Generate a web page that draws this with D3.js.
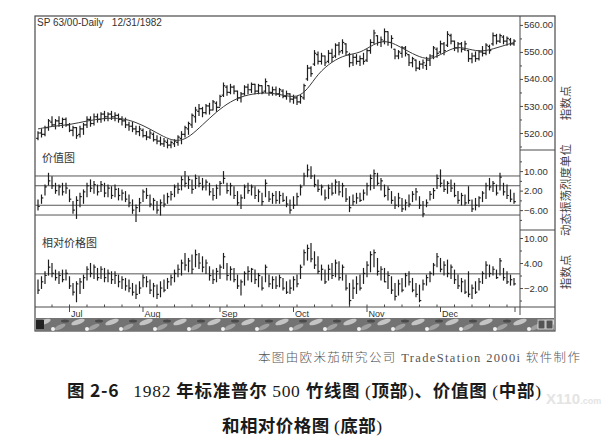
<!DOCTYPE html>
<meta charset="utf-8">
<script src="https://d3js.org/d3.v7.min.js"></script>
<style>
  body { margin: 0; background: #fff; }
</style>
<svg id="chart" width="615" height="438"></svg>
<script>

// ---- data ----
const chartTitle = "SP 63/00-Daily   12/31/1982";
const months = ["Jul", "Aug", "Sep", "Oct", "Nov", "Dec"];
const monthStart = [9, 30, 52, 73, 94, 115];   // bar index of first session

// top panel: daily bars
const hi = [520.5,521.5,522.5,525.0,526.0,525.0,526.0,525.5,525.5,523.5,
  522.5,522.0,522.5,523.5,526.0,526.0,527.0,527.0,527.5,528.0,
  527.5,528.0,527.5,527.0,526.0,525.5,524.0,524.0,522.5,522.5,
  521.5,520.5,521.0,520.0,519.0,518.5,518.0,517.5,517.0,517.5,
  519.0,520.5,522.5,524.0,527.0,529.5,530.5,529.5,530.5,531.0,
  532.0,531.5,534.0,538.5,537.5,538.0,537.5,535.5,535.0,537.5,
  538.0,538.5,538.0,538.0,537.5,540.0,537.5,537.0,537.0,536.5,
  536.0,535.5,534.5,534.0,533.5,534.0,538.0,545.0,544.5,550.5,
  550.0,549.5,548.5,550.5,551.0,553.0,553.5,554.5,553.0,549.5,
  549.0,549.0,548.5,549.5,551.0,554.5,558.0,556.0,555.5,558.5,
  557.5,556.0,551.0,550.5,552.0,552.0,549.0,548.0,547.0,546.5,
  547.0,548.0,549.0,552.0,551.5,554.0,553.5,557.5,556.5,554.0,
  553.5,553.5,554.0,550.5,549.5,550.0,550.5,552.0,553.0,552.5,
  557.0,556.5,556.5,556.0,555.5,555.0,554.5];
const lo = [517.5,518.5,519.0,521.0,522.5,521.5,522.5,522.0,522.5,520.5,
  519.0,518.0,518.5,519.5,522.0,522.5,523.0,524.0,524.0,524.5,
  524.5,525.0,524.5,524.0,523.0,522.0,521.0,520.5,519.5,519.0,
  518.5,517.5,518.0,517.0,516.0,515.5,515.0,514.5,514.5,515.0,
  515.5,516.0,518.5,519.5,522.0,524.0,526.5,526.0,527.0,527.0,
  528.5,528.0,530.0,533.5,534.0,534.5,534.5,532.0,531.5,534.0,
  534.5,535.0,534.5,534.5,534.5,535.0,534.0,534.0,534.0,533.5,
  533.0,532.5,531.5,531.0,530.5,531.0,532.5,539.5,541.0,545.0,
  545.5,545.5,545.0,546.0,546.5,548.0,549.0,549.5,549.0,544.5,
  545.0,545.5,545.0,545.5,546.5,549.5,553.0,552.5,552.0,553.0,
  552.5,551.5,547.5,547.5,548.0,548.5,545.0,544.5,543.0,543.5,
  544.0,543.5,545.0,547.5,548.0,549.5,549.0,552.0,553.0,550.5,
  550.0,550.0,550.5,546.5,546.0,546.5,547.0,548.5,549.0,549.5,
  552.5,553.0,553.5,553.0,552.5,552.5,552.5];
const op = [518.0,520.0,519.5,522.0,524.0,523.0,524.5,523.5,525.0,523.0,
  521.0,522.0,519.5,521.5,523.0,525.0,523.5,526.0,525.0,527.0,
  526.0,527.0,526.0,526.5,525.0,524.5,523.0,522.5,521.5,520.5,
  521.0,519.0,518.5,519.5,517.5,517.0,516.0,516.5,515.5,516.0,
  516.5,518.0,519.5,521.5,523.0,526.0,528.0,529.0,527.5,530.0,
  528.5,531.0,529.5,534.0,537.0,535.0,537.0,535.5,533.0,534.5,
  537.0,536.0,538.0,535.5,537.5,535.5,537.5,535.0,536.0,534.5,
  535.5,533.5,534.5,532.5,533.0,531.5,533.0,540.0,544.0,545.5,
  549.0,546.5,548.5,546.5,549.5,548.5,552.5,550.5,553.0,549.0,
  546.0,548.0,546.5,547.5,547.0,550.5,553.5,556.0,553.5,554.0,
  557.5,553.5,551.0,548.5,549.5,551.5,549.0,546.0,547.0,544.0,
  545.5,545.0,547.0,548.5,551.0,550.0,553.0,552.5,556.0,554.0,
  551.5,553.0,551.0,550.5,547.5,548.5,547.5,550.0,549.5,552.0,
  553.0,556.0,554.0,555.5,554.0,554.5,553.0];
const cl = [520.0,519.5,522.0,524.5,523.0,524.5,523.5,525.0,523.0,521.0,
  522.0,519.0,521.5,523.0,525.0,523.5,526.0,525.0,527.0,526.0,
  527.0,526.0,526.5,525.0,524.5,523.0,522.5,521.5,520.5,521.5,
  519.0,518.5,520.0,517.5,517.0,516.0,517.0,515.5,516.5,517.0,
  518.5,519.5,522.0,523.5,526.5,528.5,529.0,527.5,530.0,528.5,
  531.5,529.5,533.5,537.5,535.0,537.0,535.5,533.0,534.5,537.0,
  536.0,538.0,535.5,537.5,535.0,539.0,535.0,536.0,534.5,536.0,
  533.5,534.5,532.5,533.0,531.5,533.5,537.5,544.0,542.0,549.5,
  546.5,548.5,546.0,549.5,548.0,552.5,550.0,553.5,550.0,546.0,
  548.0,546.5,547.5,546.5,550.5,553.5,557.0,553.5,554.5,557.5,
  553.5,555.0,548.5,550.0,551.5,549.5,546.0,547.5,544.0,545.5,
  546.0,547.0,548.5,551.5,549.5,553.0,550.5,556.5,554.0,551.5,
  553.0,551.0,553.0,547.5,548.5,547.5,550.0,549.5,552.5,550.5,
  556.0,554.0,556.0,554.0,555.0,553.0,554.0];

// moving average line, read at these bars
const maIdx = [0,4,9,14,19,24,28,32,36,39,42,45,49,53,57,61,66,70,74,77,80,84,88,92,96,99,102,106,110,113,117,120,123,127,131,136];
const maVal = [521.5,522.5,523,524.5,525.5,525.5,524,521.5,518.5,517,517.5,520.5,525.5,530,533,534.5,535,534,533,536,542,546.5,549,549.5,553,554.2,553,550,547.5,547.5,550.5,552,551,550,551.5,553.5];
const priceTicks = [560, 550, 540, 530, 520];

// middle panel: value chart
const valHi = [-1.8,0.2,4.3,9.1,7.7,5.0,4.3,5.0,5.0,2.3,
  -2.5,-0.5,0.9,2.3,5.0,6.4,5.7,4.3,5.7,5.0,
  4.3,3.6,4.3,2.9,2.3,1.6,0.2,-1.8,-3.9,-1.2,
  2.3,2.9,0.2,-1.2,-2.5,-1.8,0.2,0.9,1.6,4.3,
  5.0,7.7,9.8,7.7,6.4,8.4,7.7,7.0,6.4,5.0,
  2.9,4.3,5.7,9.8,5.0,5.0,3.6,1.6,0.2,4.3,
  5.0,4.3,3.6,2.3,0.9,6.4,1.6,0.9,1.6,1.6,
  0.9,-0.5,-1.8,-0.5,0.9,4.3,9.1,12.5,11.8,8.4,
  6.4,4.3,2.3,4.3,5.0,6.4,5.7,5.0,2.9,-0.5,
  0.2,0.9,0.9,2.3,5.0,8.4,10.5,9.1,7.0,4.3,
  3.6,1.6,-0.5,0.9,-1.2,-1.8,0.2,1.6,2.9,-0.5,
  -2.5,-1.8,1.6,2.9,8.4,10.5,6.4,5.7,6.4,5.0,
  1.6,0.9,0.2,3.6,-1.8,-1.2,-0.5,1.6,5.0,7.0,
  5.7,4.3,9.1,5.0,4.3,2.3,0.9];
const valLo = [-5.9,-3.2,0.2,4.3,2.9,0.9,0.2,0.2,0.9,-2.5,
  -7.3,-9.4,-4.6,-3.2,-0.5,1.6,0.9,0.2,1.6,-0.5,
  -0.5,-1.2,-0.5,-1.8,-1.8,-2.5,-4.6,-7.3,-10.7,-6.6,
  -2.5,-1.2,-4.6,-5.9,-7.3,-8.0,-4.6,-3.2,-1.8,-0.5,
  0.9,2.3,3.6,2.9,0.9,2.9,3.6,2.3,2.3,0.2,
  -1.8,-1.2,0.2,5.0,0.9,0.2,-1.2,-3.9,-5.3,-1.2,
  0.9,0.2,-1.2,-2.5,-3.9,-0.5,-2.5,-3.2,-3.2,-3.2,
  -2.5,-4.6,-7.3,-5.3,-3.9,0.2,4.3,7.7,7.0,3.6,
  1.6,0.2,-1.8,-1.2,0.2,0.9,0.2,-0.5,-2.5,-6.6,
  -3.9,-3.2,-2.5,-1.8,0.2,2.3,2.9,4.3,2.3,-0.5,
  -1.8,-3.2,-5.3,-4.6,-6.6,-5.9,-4.6,-2.5,-1.8,-5.3,
  -8.7,-4.6,-1.8,-1.2,2.9,3.6,1.6,0.9,1.6,-0.5,
  -3.2,-3.9,-3.9,-3.2,-6.6,-5.9,-4.6,-2.5,-1.2,2.3,
  1.6,0.2,2.3,0.2,-1.2,-2.5,-3.2];
const valCl = [-4.5,-1.0,3.5,6.0,4.0,2.0,3.5,1.5,3.0,-1.5,
  -6.0,-2.0,-0.5,1.5,4.0,3.0,4.5,1.5,4.5,1.0,
  3.0,0.0,2.5,0.0,1.0,-1.5,-3.0,-6.0,-5.0,-3.0,
  1.5,0.0,-3.5,-2.0,-6.0,-3.0,-3.5,-0.5,0.5,3.5,
  2.5,6.5,5.0,6.5,2.5,7.0,5.0,3.5,5.5,1.5,
  0.0,3.0,5.0,7.0,2.0,4.0,0.0,-3.0,-1.0,3.5,
  2.0,3.5,0.0,1.5,-2.5,5.0,-1.5,0.0,-2.0,0.0,
  -2.0,-3.5,-6.0,-4.0,-0.5,3.5,8.0,10.5,8.0,4.5,
  2.5,3.5,-1.0,3.0,1.0,5.5,1.5,4.0,-1.5,-5.0,
  -2.5,-1.0,-2.0,1.0,4.0,7.0,9.0,5.0,6.0,0.0,
  2.5,-2.0,-4.0,-1.0,-5.5,-3.0,-3.5,0.5,1.5,-4.0,
  -7.5,-3.0,0.5,2.0,7.0,5.0,2.5,5.0,3.0,0.0,
  -2.0,0.0,-3.0,-2.0,-5.5,-4.0,-1.0,1.0,4.0,3.5,
  5.0,1.0,7.5,1.5,0.0,-1.5,-2.5];
const valBands = [8, 4, -4, -8];
const valTicks = [10, 2, -6];

// bottom panel: relative price chart
const relHi = [-0.1,0.7,1.9,4.7,3.9,2.3,1.9,2.3,2.3,0.7,
  -0.9,-0.5,0.3,1.1,3.1,3.9,3.5,2.7,3.1,2.7,
  2.3,1.9,1.9,1.1,0.7,0.3,-0.1,-0.9,-1.3,-0.5,
  1.1,0.7,-0.1,-0.9,-1.3,-0.5,-0.1,0.3,1.1,2.3,
  3.5,4.7,6.3,5.1,5.9,7.1,6.3,5.5,4.7,3.1,
  2.3,2.7,3.5,6.3,3.9,3.1,2.7,1.1,-0.1,1.9,
  3.1,2.7,2.3,1.5,0.7,3.5,1.1,0.7,0.7,1.1,
  0.3,-0.5,-0.1,0.7,1.1,3.5,7.1,8.3,8.7,6.7,
  5.5,3.5,2.3,3.5,3.9,4.7,4.3,3.5,1.1,-0.9,
  -0.1,0.7,1.1,2.7,4.3,6.7,7.1,5.1,3.1,2.7,
  1.9,0.7,-0.9,-0.1,0.3,1.5,1.9,0.3,-0.9,-1.3,
  -0.1,1.1,1.9,3.9,6.3,5.1,4.3,4.7,3.5,2.3,
  1.1,0.3,-0.1,1.9,-1.3,-0.5,0.3,1.9,4.3,3.5,
  3.1,2.3,5.1,2.7,1.9,1.1,0.3];
const relLo = [-3.3,-2.1,-0.9,1.1,0.7,-0.1,-0.9,-0.5,-0.1,-2.1,
  -3.7,-5.3,-3.3,-2.1,-0.1,0.7,0.3,-0.1,0.3,-0.5,
  -0.5,-0.9,-0.9,-1.7,-2.1,-2.5,-2.9,-3.7,-4.5,-3.3,
  -1.7,-1.7,-3.3,-4.1,-4.5,-4.1,-2.9,-2.1,-1.3,-0.5,
  0.7,1.1,2.3,1.9,1.5,3.1,2.7,1.9,1.5,-0.1,
  -0.9,-0.5,0.3,2.7,-0.1,-0.1,-0.5,-2.1,-3.7,-1.3,
  -0.1,-0.5,-0.9,-1.7,-2.5,-0.5,-1.7,-2.1,-2.1,-1.7,
  -2.5,-3.3,-3.3,-2.5,-1.7,0.3,3.5,4.7,4.3,2.7,
  1.5,-0.1,-0.9,-0.1,0.3,0.7,-0.1,-0.1,-2.5,-6.1,
  -4.5,-3.3,-2.5,-0.9,0.7,1.9,3.1,1.1,-0.1,-0.5,
  -2.1,-3.3,-4.9,-3.7,-2.9,-1.7,-1.3,-2.9,-4.1,-5.3,
  -2.5,-1.3,-0.5,1.1,3.1,1.9,1.1,0.7,0.3,-0.9,
  -2.1,-2.9,-3.3,-4.1,-4.5,-3.3,-2.5,-0.9,0.3,0.7,
  1.1,0.3,1.1,-0.1,-0.9,-1.3,-1.3];
const relCl = [-2.5,-0.5,1.0,3.0,1.5,0.5,1.0,0.0,1.5,-1.5,
  -3.0,-1.0,-0.5,0.5,2.5,1.5,3.0,0.5,2.5,0.5,
  1.5,0.0,1.0,-0.5,0.0,-1.5,-2.0,-3.0,-3.5,-2.0,
  0.5,-0.5,-2.5,-1.5,-3.5,-2.0,-2.5,-0.5,0.5,1.5,
  2.5,4.0,3.5,4.5,2.5,6.0,4.0,3.0,4.0,1.0,
  0.0,2.0,3.0,5.5,1.0,2.5,0.0,-1.5,-0.5,1.5,
  2.0,2.5,0.0,1.0,-2.0,3.0,-1.0,0.0,-1.5,0.5,
  -2.0,-3.0,-2.0,0.0,-1.0,3.0,6.5,7.5,5.0,3.5,
  2.0,2.5,-0.5,2.5,1.0,4.0,0.5,3.0,-2.0,-5.0,
  -2.0,-1.0,-2.0,1.5,3.5,6.0,6.5,2.0,2.5,-0.5,
  1.0,-2.5,-4.0,-1.0,-2.5,1.0,-0.5,-2.5,-3.5,-5.0,
  -1.0,0.5,1.5,3.5,5.5,2.5,3.5,1.5,3.0,0.0,
  -1.5,-0.5,-3.0,-3.5,-2.0,-3.0,-0.5,1.5,3.5,1.5,
  2.5,0.5,4.5,0.5,-0.5,0.0,-1.0];
const relLine = [1.4];
const relTicks = [10, 4, -2];

// ---- layout ----
const svg = d3.select("#chart");
const L = 35, R = 555, AX = 520, T = 16;
const P1 = 150, P2 = 230, P3 = 307, SB = 318, B = 331;
const ink = "#1e1e1e", frame = "#4a4a4a";
const sans = "'Liberation Sans', Arial, sans-serif";
const cjk = "'Noto Sans CJK SC', 'Noto Sans', sans-serif";
const serifCjk = "'Liberation Serif', 'Noto Sans CJK SC', serif";

const x = d3.scaleLinear().domain([0, hi.length - 1]).range([38, 514]);
const yP = d3.scaleLinear().domain([513.7, 563.3]).range([P1, T]);
const yV = d3.scaleLinear().domain([-14.14, 18.65]).range([P2, P1]);
const yR = d3.scaleLinear().domain([-6.55, 11.92]).range([P3, P2]);

// frame and separators
svg.append("rect").attr("x", L).attr("y", T).attr("width", R - L).attr("height", B - T)
  .attr("fill", "none").attr("stroke", frame).attr("stroke-width", 1.2);
svg.append("line").attr("x1", AX).attr("x2", AX).attr("y1", T).attr("y2", 315)
  .attr("stroke", frame);
[P1, P2].forEach(y => svg.append("line").attr("x1", AX).attr("x2", R)
  .attr("y1", y).attr("y2", y).attr("stroke", frame));
svg.append("line").attr("x1", L).attr("x2", R).attr("y1", P3).attr("y2", P3)
  .attr("stroke", frame);

// header
svg.append("text").attr("x", 37).attr("y", 26).attr("font-size", 10)
  .attr("font-family", sans).attr("fill", "#333").style("white-space", "pre").text(chartTitle);

// horizontal reference lines
svg.append("g").selectAll("line").data(valBands).join("line")
  .attr("x1", L).attr("x2", AX).attr("y1", d => yV(d)).attr("y2", d => yV(d))
  .attr("stroke", "#555").attr("stroke-width", 1);
svg.append("g").selectAll("line").data(relLine).join("line")
  .attr("x1", L).attr("x2", AX).attr("y1", d => yR(d)).attr("y2", d => yR(d))
  .attr("stroke", "#555").attr("stroke-width", 1);

// bar drawing
function drawBars(yS, H, Lo, C, O) {
  const g = svg.append("g").attr("stroke", ink).attr("stroke-width", 1.2);
  H.forEach((h, i) => {
    const xi = x(i);
    g.append("line").attr("x1", xi).attr("x2", xi).attr("y1", yS(h) - 0.5).attr("y2", yS(Lo[i]) + 0.5);
    g.append("line").attr("x1", xi).attr("x2", xi + 1.8).attr("y1", yS(C[i])).attr("y2", yS(C[i]));
    if (O) g.append("line").attr("x1", xi - 1.8).attr("x2", xi).attr("y1", yS(O[i])).attr("y2", yS(O[i]));
  });
}
drawBars(yP, hi, lo, cl, op);
drawBars(yV, valHi, valLo, valCl);
drawBars(yR, relHi, relLo, relCl);

// moving average
svg.append("path")
  .datum(maIdx.map((d, i) => [d, maVal[i]]))
  .attr("fill", "none").attr("stroke", "#3a3a3a").attr("stroke-width", 1)
  .attr("d", d3.line().x(d => x(d[0])).y(d => yP(d[1])).curve(d3.curveBasis));

// right axes
function rightAxis(yS, ticks, minor) {
  const g = svg.append("g").attr("transform", `translate(${AX},0)`);
  g.call(d3.axisRight(yS).tickValues(ticks).tickFormat(d3.format(".2f")).tickSize(3).tickPadding(1));
  g.call(a => a.select(".domain").remove());
  g.selectAll("text").attr("font-size", 9.5).attr("fill", "#333").attr("font-family", sans);
  g.selectAll("line").attr("stroke", frame);
  const m = svg.append("g").attr("transform", `translate(${AX},0)`);
  m.call(d3.axisRight(yS).tickValues(minor).tickFormat("").tickSize(2));
  m.call(a => a.select(".domain").remove());
  m.selectAll("line").attr("stroke", frame);
}
rightAxis(yP, priceTicks, [555, 545, 535, 525, 515]);
rightAxis(yV, valTicks, [14, 6, -2, -10]);
rightAxis(yR, relTicks, [7, 1, -5]);

// date axis
const weekTicks = d3.range(4, hi.length, 5);
svg.append("g").selectAll("line").data(weekTicks).join("line")
  .attr("x1", d => x(d)).attr("x2", d => x(d)).attr("y1", P3 - 2.5).attr("y2", P3)
  .attr("stroke", frame);
const mt = svg.append("g").selectAll("g").data(months).join("g")
  .attr("transform", (d, i) => `translate(${x(monthStart[i])},${P3})`);
mt.append("line").attr("y1", 0).attr("y2", 5).attr("stroke", frame);
mt.append("text").attr("x", 1.5).attr("y", 10).attr("font-size", 9).attr("fill", "#333")
  .attr("font-family", sans).text(d => d);
svg.append("line").attr("x1", 515).attr("x2", 515).attr("y1", P3).attr("y2", P3 + 5)
  .attr("stroke", frame);

// scroll bar strip
const defs = svg.append("defs");
const pat = defs.append("pattern").attr("id", "sb").attr("patternUnits", "userSpaceOnUse")
  .attr("width", 34).attr("height", 13).attr("x", L).attr("y", SB);
pat.append("rect").attr("width", 34).attr("height", 13).attr("fill", "#737373");
pat.append("ellipse").attr("cx", 9).attr("cy", 4).attr("rx", 7).attr("ry", 2.5)
  .attr("fill", "#c4c4c4").attr("transform", "rotate(-20 9 4)");
pat.append("ellipse").attr("cx", 25).attr("cy", 9).attr("rx", 6).attr("ry", 2.2)
  .attr("fill", "#a0a0a0").attr("transform", "rotate(-25 25 9)");
pat.append("circle").attr("cx", 18).attr("cy", 11).attr("r", 2).attr("fill", "#f2f2f2");
pat.append("ellipse").attr("cx", 30).attr("cy", 3).attr("rx", 4).attr("ry", 1.5).attr("fill", "#4a4a4a");
svg.append("rect").attr("x", L + 1).attr("y", SB).attr("width", R - L - 2).attr("height", B - SB)
  .attr("fill", "url(#sb)");
svg.append("rect").attr("x", L + 1).attr("y", SB + 2).attr("width", 8).attr("height", 9).attr("fill", "#222");
[538, 546].forEach(xx => svg.append("rect").attr("x", xx).attr("y", SB + 2)
  .attr("width", 7).attr("height", 9).attr("fill", "#555").attr("stroke", "#eee").attr("stroke-width", 0.8));

// panel names
svg.append("text").attr("x", 42).attr("y", 162).attr("font-size", 11)
  .attr("font-family", cjk).attr("fill", "#333").text("价值图");
svg.append("text").attr("x", 42).attr("y", 247).attr("font-size", 11)
  .attr("font-family", cjk).attr("fill", "#333").text("相对价格图");

// side unit titles
[["指数点", 103], ["动态振荡烈度单位", 190], ["指数点", 272]].forEach(([t, cy]) =>
  svg.append("text").attr("transform", `translate(565,${cy}) rotate(-90)`)
    .attr("text-anchor", "middle").attr("dominant-baseline", "central")
    .attr("font-size", 11.5).attr("font-family", cjk).attr("fill", "#444").text(t));

// captions under the chart
svg.append("text").attr("x", 258).attr("y", 362).attr("font-size", 12.5)
  .attr("font-family", serifCjk).attr("font-weight", 300).attr("fill", "#555")
  .attr("textLength", 322).attr("lengthAdjust", "spacing")
  .text("本图由欧米茄研究公司 TradeStation 2000i 软件制作");
const wm = svg.append("text").attr("x", 546).attr("y", 404).attr("font-size", 15)
  .attr("font-family", sans).attr("font-weight", "bold").attr("fill", "#e4e4e4").text("X110");
wm.append("tspan").attr("font-size", 9).text(".com");

function caption(xx, yy, len, parts) {
  const t = svg.append("text").attr("x", xx).attr("y", yy).attr("font-size", 17.5)
    .attr("fill", "#1a1a1a").attr("textLength", len).attr("lengthAdjust", "spacing")
    .style("white-space", "pre");
  parts.forEach(([s, serif]) => t.append("tspan")
    .attr("font-family", serif ? serifCjk : cjk)
    .attr("font-weight", serif ? "normal" : "bold").text(s));
}
caption(67, 397, 474, [["图 2-6   ", false], ["1982 ", true], ["年标准普尔 ", false], ["500 ", true],
  ["竹线图 ", false], ["(", true], ["顶部", false], [")", true], ["、价值图 ", false],
  ["(", true], ["中部", false], [")", true]]);
caption(222, 432, 160, [["和相对价格图 ", false], ["(", true], ["底部", false], [")", true]]);

</script>
